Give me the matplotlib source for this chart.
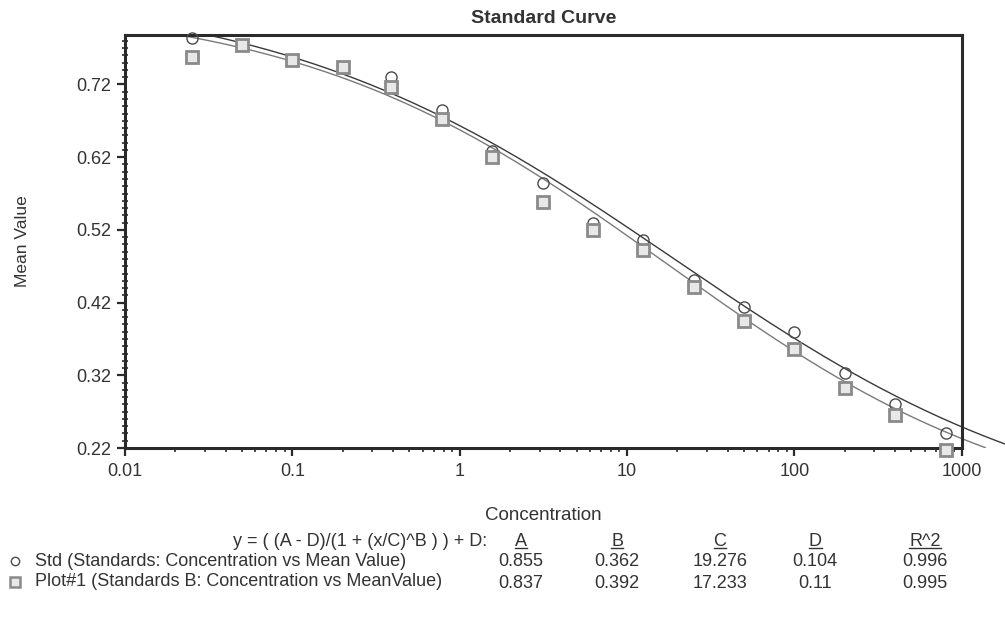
import numpy as np
import matplotlib
matplotlib.use("Agg")
import matplotlib.pyplot as plt
from matplotlib.ticker import FixedLocator, MultipleLocator, LogLocator, NullFormatter, FormatStrFormatter
from matplotlib.lines import Line2D
from matplotlib.patches import Rectangle

plt.rcParams['font.family'] = ['Liberation Sans', 'DejaVu Sans']

# dilution series of the standards
conc = [0.025, 0.05, 0.1, 0.2, 0.39, 0.78, 1.56, 3.125, 6.25, 12.5, 25, 50, 100, 200, 400, 800]
std_vals = [0.784, 0.774, 0.754, 0.744, 0.730, 0.685, 0.628, 0.584, 0.529, 0.506,
            0.451, 0.414, 0.380, 0.323, 0.281, 0.241]
plot1_vals = [0.758, 0.774, 0.754, 0.744, 0.717, 0.673, 0.620, 0.558, 0.520, 0.492,
              0.441, 0.395, 0.356, 0.303, 0.265, 0.217]

# 4PL fit parameters: A, B, C, D, R^2
std_fit = [0.855, 0.362, 19.276, 0.104, 0.996]
plot1_fit = [0.837, 0.392, 17.233, 0.11, 0.995]
fit_labels = ['0.855', '0.362', '19.276', '0.104', '0.996']
plot1_labels = ['0.837', '0.392', '17.233', '0.11', '0.995']
headers = ['A', 'B', 'C', 'D', 'R^2']

yticks = [0.22, 0.32, 0.42, 0.52, 0.62, 0.72]
xticks = [0.01, 0.1, 1, 10, 100, 1000]
xticklabels = ['0.01', '0.1', '1', '10', '100', '1000']


def four_pl(x, A, B, C, D):
    return (A - D) / (1 + (x / C) ** B) + D


fig = plt.figure(figsize=(10.05, 6.22), dpi=100)
ax = fig.add_axes([0.1244, 0.2797, 0.8326, 0.664])

ax.set_xscale('log')
ax.set_xlim(0.01, 1000)
ax.set_ylim(0.22, 0.788)

# fitted curves run past the right border, clipped only at the top
clip = Rectangle((0, 0), 1.2, 1.0, transform=ax.transAxes, facecolor='none', edgecolor='none')
ax.add_patch(clip)
xs1 = np.logspace(np.log10(0.02), np.log10(1800), 400)
xs2 = np.logspace(np.log10(0.02), np.log10(1380), 400)
l1, = ax.plot(xs1, four_pl(xs1, *std_fit[:4]), color='#3a3a3a', lw=1.0)
l2, = ax.plot(xs2, four_pl(xs2, *plot1_fit[:4]), color='#7a7a7a', lw=1.0)
for ln in (l1, l2):
    ln.set_clip_path(clip)

ax.plot(conc, std_vals, linestyle='none', marker='o', ms=8, mfc='none',
        mec='#4a4a4a', mew=1.0, clip_on=False, zorder=3)
ax.plot(conc, plot1_vals, linestyle='none', marker='s', ms=8, mfc='#e8e8e8',
        mec='#8a8a8a', mew=2.0, clip_on=False, zorder=4)

for side in ['left', 'bottom', 'top', 'right']:
    ax.spines[side].set_linewidth(2.2)
    ax.spines[side].set_color('#2a2a2a')

ax.yaxis.set_major_locator(FixedLocator(yticks))
ax.yaxis.set_major_formatter(FormatStrFormatter('%.2f'))
ax.yaxis.set_minor_locator(MultipleLocator(0.01))
ax.xaxis.set_major_locator(FixedLocator(xticks))
ax.set_xticklabels(xticklabels)
ax.xaxis.set_minor_locator(LogLocator(base=10, subs=np.arange(2, 10)))
ax.xaxis.set_minor_formatter(NullFormatter())

ax.tick_params(axis='both', which='major', direction='out', length=6, width=1.6,
               labelsize=13, color='#2a2a2a', labelcolor='#333333')
ax.tick_params(axis='x', which='major', pad=5)
ax.tick_params(axis='y', which='major', pad=4)
ax.tick_params(axis='y', which='minor', direction='inout', length=5, width=1.2, color='#2a2a2a')
ax.tick_params(axis='x', which='minor', direction='out', length=3, width=1.2, color='#2a2a2a')

ax.text(0.5, 1 + 17 / 413, 'Standard Curve', transform=ax.transAxes, ha='center', va='center',
        fontsize=14, fontweight='bold', color='#333333')
ax.set_xlabel('Concentration', fontsize=13.5, color='#333333')
ax.xaxis.set_label_coords(0.5, -0.143)
ax.set_ylabel('Mean Value', fontsize=12.5, color='#333333')
ax.yaxis.set_label_coords(-0.113, 0.5)

# fit summary below the chart
tc = '#333333'
fs = 13
fig.text(487 / 1005, 1 - 541 / 622, 'y = ( (A - D)/(1 + (x/C)^B ) ) + D:', ha='right',
         va='center', fontsize=fs, color=tc)
fig.text(35 / 1005, 1 - 561 / 622, 'Std (Standards: Concentration vs Mean Value)',
         ha='left', va='center', fontsize=fs, color=tc)
fig.text(35 / 1005, 1 - 582 / 622, 'Plot#1 (Standards B: Concentration vs MeanValue)',
         ha='left', va='center', fontsize=fs, color=tc)
fig.add_artist(Line2D([15 / 1005], [1 - 561 / 622], marker='o', ms=6, mfc='none',
                      mec='#4a4a4a', mew=1.0, transform=fig.transFigure))
fig.add_artist(Line2D([15 / 1005], [1 - 582 / 622], marker='s', ms=7, mfc='#e8e8e8',
                      mec='#8a8a8a', mew=1.8, transform=fig.transFigure))

col_x = [521, 617, 720, 815, 925]
header_texts = []
for cx, h, v1, v2 in zip(col_x, headers, fit_labels, plot1_labels):
    t = fig.text(cx / 1005, 1 - 541 / 622, h, ha='center', va='center', fontsize=fs, color=tc)
    header_texts.append(t)
    fig.text(cx / 1005, 1 - 561 / 622, v1, ha='center', va='center', fontsize=fs, color=tc)
    fig.text(cx / 1005, 1 - 583 / 622, v2, ha='center', va='center', fontsize=fs, color=tc)

fig.canvas.draw()
inv = fig.transFigure.inverted()
for t in header_texts:
    bb = t.get_window_extent().transformed(inv)
    fig.add_artist(Line2D([bb.x0, bb.x1], [bb.y0 + 0.003, bb.y0 + 0.003], color=tc, lw=1.0,
                          transform=fig.transFigure))

fig.savefig('out.png', dpi=100)
